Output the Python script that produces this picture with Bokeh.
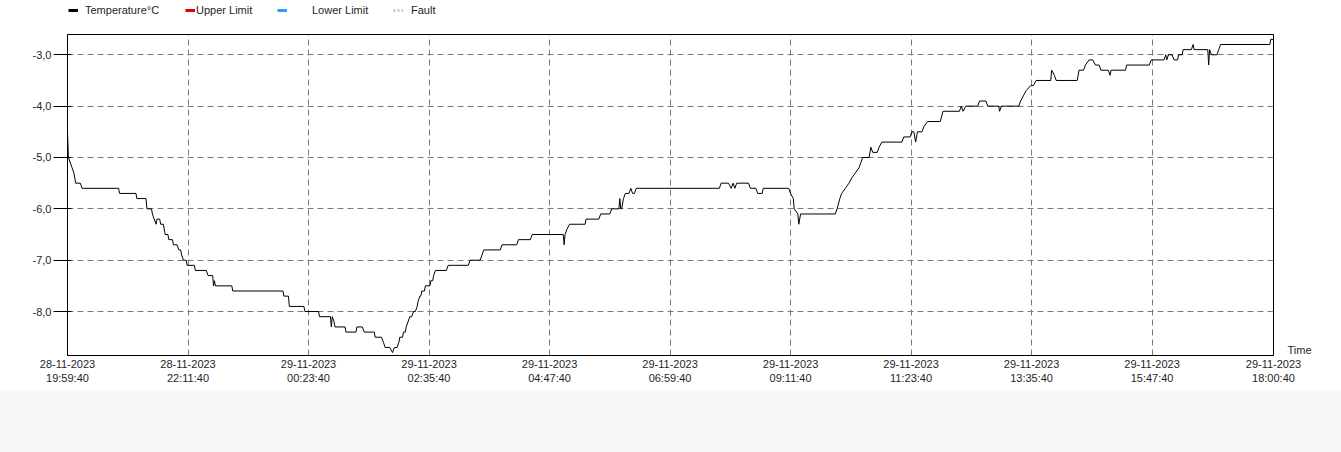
import pandas as pd
from bokeh.plotting import figure
from bokeh.models import (Range1d, FixedTicker, CustomJSTickFormatter, Legend, LegendItem,
                          LinearAxis, Div)
from bokeh.layouts import column
from bokeh.embed import file_html
from bokeh.resources import INLINE

# ---------------- data ----------------
START = "2023-11-28 19:59:40"
END = "2023-11-29 18:00:40"
TICK_STEP_MIN = 132

# minutes after START
t_min = [
    0, 1, 5, 7, 9, 14, 16, 56, 57, 75,
    76, 86, 87, 92, 93, 97, 98, 101, 102, 105,
    107, 110, 111, 115, 116, 120, 122, 124, 125, 127,
    130, 131, 139, 140, 152, 154, 159, 160, 161, 162,
    180, 181, 236, 237, 242, 243, 259, 260, 275, 276,
    288, 289, 290, 292, 293, 304, 305, 316, 317, 323,
    325, 336, 337, 344, 346, 348, 353, 356, 358, 361,
    363, 364, 367, 368, 370, 371, 373, 375, 377, 379,
    381, 383, 384, 386, 387, 388, 391, 392, 397, 398,
    400, 401, 403, 415, 417, 439, 441, 452, 456, 474,
    476, 492, 494, 507, 509, 543, 544, 545, 547, 550,
    567, 568, 582, 584, 594, 596, 604, 605, 606, 607,
    609, 611, 615, 617, 619, 621, 623, 714, 716, 724,
    727, 729, 731, 733, 746, 748, 754, 756, 761, 762,
    790, 792, 795, 796, 800, 801, 803, 841, 843, 846,
    848, 852, 856, 859, 863, 867, 869, 871, 878, 880,
    882, 887, 889, 892, 914, 916, 923, 925, 927, 929,
    931, 936, 938, 942, 956, 959, 977, 979, 981, 984,
    997, 999, 1006, 1008, 1020, 1021, 1023, 1042, 1044, 1047,
    1050, 1055, 1058, 1061, 1077, 1078, 1081, 1083, 1106, 1108,
    1113, 1115, 1119, 1123, 1126, 1130, 1132, 1140, 1142, 1143,
    1159, 1160, 1185, 1187, 1201, 1203, 1204, 1206, 1210, 1212,
    1216, 1217, 1221, 1222, 1231, 1233, 1234, 1249, 1250, 1251,
    1253, 1259, 1261, 1263, 1317, 1318, 1321,
]

temp_c = [
    -4.5, -5.0, -5.2, -5.3, -5.5, -5.5, -5.6, -5.6, -5.7, -5.7,
    -5.8, -5.8, -6.0, -6.0, -6.1, -6.3, -6.2, -6.2, -6.3, -6.3,
    -6.5, -6.5, -6.6, -6.6, -6.7, -6.7, -6.8, -6.8, -6.9, -7.0,
    -7.0, -7.1, -7.1, -7.2, -7.2, -7.3, -7.3, -7.5, -7.4, -7.5,
    -7.5, -7.6, -7.6, -7.7, -7.7, -7.9, -7.9, -8.0, -8.0, -8.1,
    -8.1, -8.3, -8.1, -8.2, -8.3, -8.3, -8.4, -8.4, -8.3, -8.3,
    -8.4, -8.4, -8.5, -8.5, -8.6, -8.7, -8.7, -8.8, -8.7, -8.7,
    -8.6, -8.5, -8.5, -8.4, -8.4, -8.3, -8.2, -8.1, -8.1, -8.0,
    -8.0, -7.9, -7.8, -7.7, -7.7, -7.6, -7.6, -7.5, -7.5, -7.4,
    -7.4, -7.3, -7.2, -7.2, -7.1, -7.1, -7.0, -7.0, -6.8, -6.8,
    -6.7, -6.7, -6.6, -6.6, -6.5, -6.5, -6.7, -6.5, -6.4, -6.3,
    -6.3, -6.2, -6.2, -6.1, -6.1, -6.0, -6.0, -5.8, -6.0, -6.0,
    -5.8, -5.7, -5.7, -5.6, -5.7, -5.7, -5.6, -5.6, -5.5, -5.5,
    -5.6, -5.5, -5.6, -5.5, -5.5, -5.6, -5.6, -5.7, -5.7, -5.6,
    -5.6, -5.7, -5.8, -6.0, -6.1, -6.3, -6.1, -6.1, -6.0, -5.8,
    -5.7, -5.6, -5.5, -5.4, -5.3, -5.2, -5.1, -5.0, -5.0, -4.8,
    -4.9, -4.9, -4.8, -4.7, -4.7, -4.6, -4.6, -4.5, -4.5, -4.7,
    -4.5, -4.5, -4.4, -4.3, -4.3, -4.1, -4.1, -4.0, -4.1, -4.0,
    -4.0, -3.9, -3.9, -4.0, -4.0, -4.1, -4.0, -4.0, -3.9, -3.8,
    -3.7, -3.6, -3.6, -3.5, -3.5, -3.3, -3.4, -3.5, -3.5, -3.3,
    -3.3, -3.2, -3.1, -3.1, -3.2, -3.2, -3.3, -3.3, -3.4, -3.3,
    -3.3, -3.2, -3.2, -3.1, -3.1, -3.0, -3.1, -3.0, -3.0, -3.1,
    -3.1, -3.0, -3.0, -2.9, -2.9, -2.8, -2.9, -2.9, -3.2, -2.9,
    -3.0, -3.0, -2.9, -2.8, -2.8, -2.7, -2.7,
]
assert len(t_min) == len(temp_c)

y_ticks = [-8.0, -7.0, -6.0, -5.0, -4.0, -3.0]
Y_MIN, Y_MAX = -8.856, -2.605

legend_labels = ["Temperature°C", "Upper Limit", "Lower Limit", "Fault"]
legend_colors = ["#000000", "#e60000", "#3399ff", "#c8c8c8"]
legend_dashes = ["solid", "solid", "solid", "2 2"]

x_title = "Time"

# ---------------- build ----------------
start = pd.Timestamp(START)
end = pd.Timestamp(END)
times = start + pd.to_timedelta(t_min, unit="min")


def ms(ts):
    return ts.value // 10**6


tick_ms = [ms(start + pd.Timedelta(minutes=TICK_STEP_MIN * k)) for k in range(10)] + [ms(end)]

FONT = "Liberation Sans"
TXT = "#1e1e2a"

W = 1341
LEG_H = 34
H = 356
ML, MR, MB = 67, 68, 35

# ---- legend strip (own small canvas above the chart; its frame aligns with the chart's) ----
pl = figure(width=W, height=LEG_H, output_backend="svg", toolbar_location=None,
            x_range=Range1d(0, 1), y_range=Range1d(0, 1), min_border=0,
            x_axis_location=None, y_axis_location=None)
pl.outline_line_color = None
pl.grid.visible = False
pl.background_fill_color = "white"
pl.border_fill_color = "white"

NAN = float("nan")
leg_x = [1, 118, 210, 326]
leg_standoff = [7, 1, 25, 8]
for lab, col, dash, lx, so in zip(legend_labels, legend_colors, legend_dashes, leg_x, leg_standoff):
    # key-only renderer: a single missing value, so nothing is drawn in the strip itself
    r = pl.line(x=[NAN], y=[NAN], line_color=col, line_width=3, line_dash=dash)
    leg = Legend(items=[LegendItem(label=lab, renderers=[r])], location=(lx, 18),
                 orientation="horizontal", padding=0, margin=0, spacing=0,
                 glyph_width=10, glyph_height=10, label_height=10, label_standoff=so,
                 border_line_color=None, background_fill_alpha=0,
                 label_text_font=FONT, label_text_font_size="11px", label_text_color=TXT)
    pl.add_layout(leg, "center")

# ---- main chart ----
p = figure(width=W, height=H, x_axis_type="datetime",
           output_backend="svg", toolbar_location=None,
           x_range=Range1d(ms(start), ms(end)), y_range=Range1d(Y_MIN, Y_MAX),
           min_border_left=ML, min_border_right=MR, min_border_top=0, min_border_bottom=MB)
p.background_fill_color = "white"
p.border_fill_color = "white"
p.outline_line_color = "black"
p.outline_line_width = 1

p.line(x=times, y=temp_c, line_color="black", line_width=1)

p.xaxis.ticker = FixedTicker(ticks=tick_ms)
p.xaxis.formatter = CustomJSTickFormatter(code="""
const d = new Date(tick);
const z = (n) => String(n).padStart(2, '0');
return z(d.getUTCDate()) + '-' + z(d.getUTCMonth() + 1) + '-' + d.getUTCFullYear() + '\\n' +
       z(d.getUTCHours()) + ':' + z(d.getUTCMinutes()) + ':' + z(d.getUTCSeconds());
""")
p.xaxis.major_tick_out = 0
p.xaxis.major_tick_in = 0
p.xaxis.minor_tick_out = 0
p.xaxis.minor_tick_in = 0
p.xaxis.major_label_standoff = 2

p.yaxis.ticker = FixedTicker(ticks=y_ticks)
p.yaxis.formatter = CustomJSTickFormatter(code="return tick.toFixed(1).replace('.', ',');")
p.yaxis.major_tick_out = 14
p.yaxis.major_tick_in = 4
p.yaxis.minor_tick_out = 0
p.yaxis.minor_tick_in = 0
p.yaxis.major_label_standoff = 2

for ax in (p.xaxis[0], p.yaxis[0]):
    ax.axis_line_color = "black"
    ax.major_tick_line_color = "black"
    ax.major_label_text_font = FONT
    ax.major_label_text_font_size = "11px"
    ax.major_label_text_color = TXT

for g in (p.xgrid[0], p.ygrid[0]):
    g.grid_line_color = "#7a7a7a"
    g.grid_line_dash = "6 4"
    g.grid_line_width = 1

# "Time" caption at the right end of the time axis (drawn as a right-side axis label)
time_axis = LinearAxis(ticker=FixedTicker(ticks=[Y_MIN + 0.1]),
                       formatter=CustomJSTickFormatter(code="return '%s';" % x_title),
                       axis_line_color=None, major_tick_line_color=None,
                       minor_tick_line_color=None, major_tick_out=0, major_tick_in=0,
                       major_label_standoff=14, major_label_text_font=FONT,
                       major_label_text_font_size="11px", major_label_text_color=TXT)
p.add_layout(time_axis, "right")

bottom = Div(width=W, height=62, margin=0, styles={"background-color": "#f8f8f8"})

layout = column(pl, p, bottom, spacing=0)
open("out.html", "w").write(file_html(layout, INLINE))
